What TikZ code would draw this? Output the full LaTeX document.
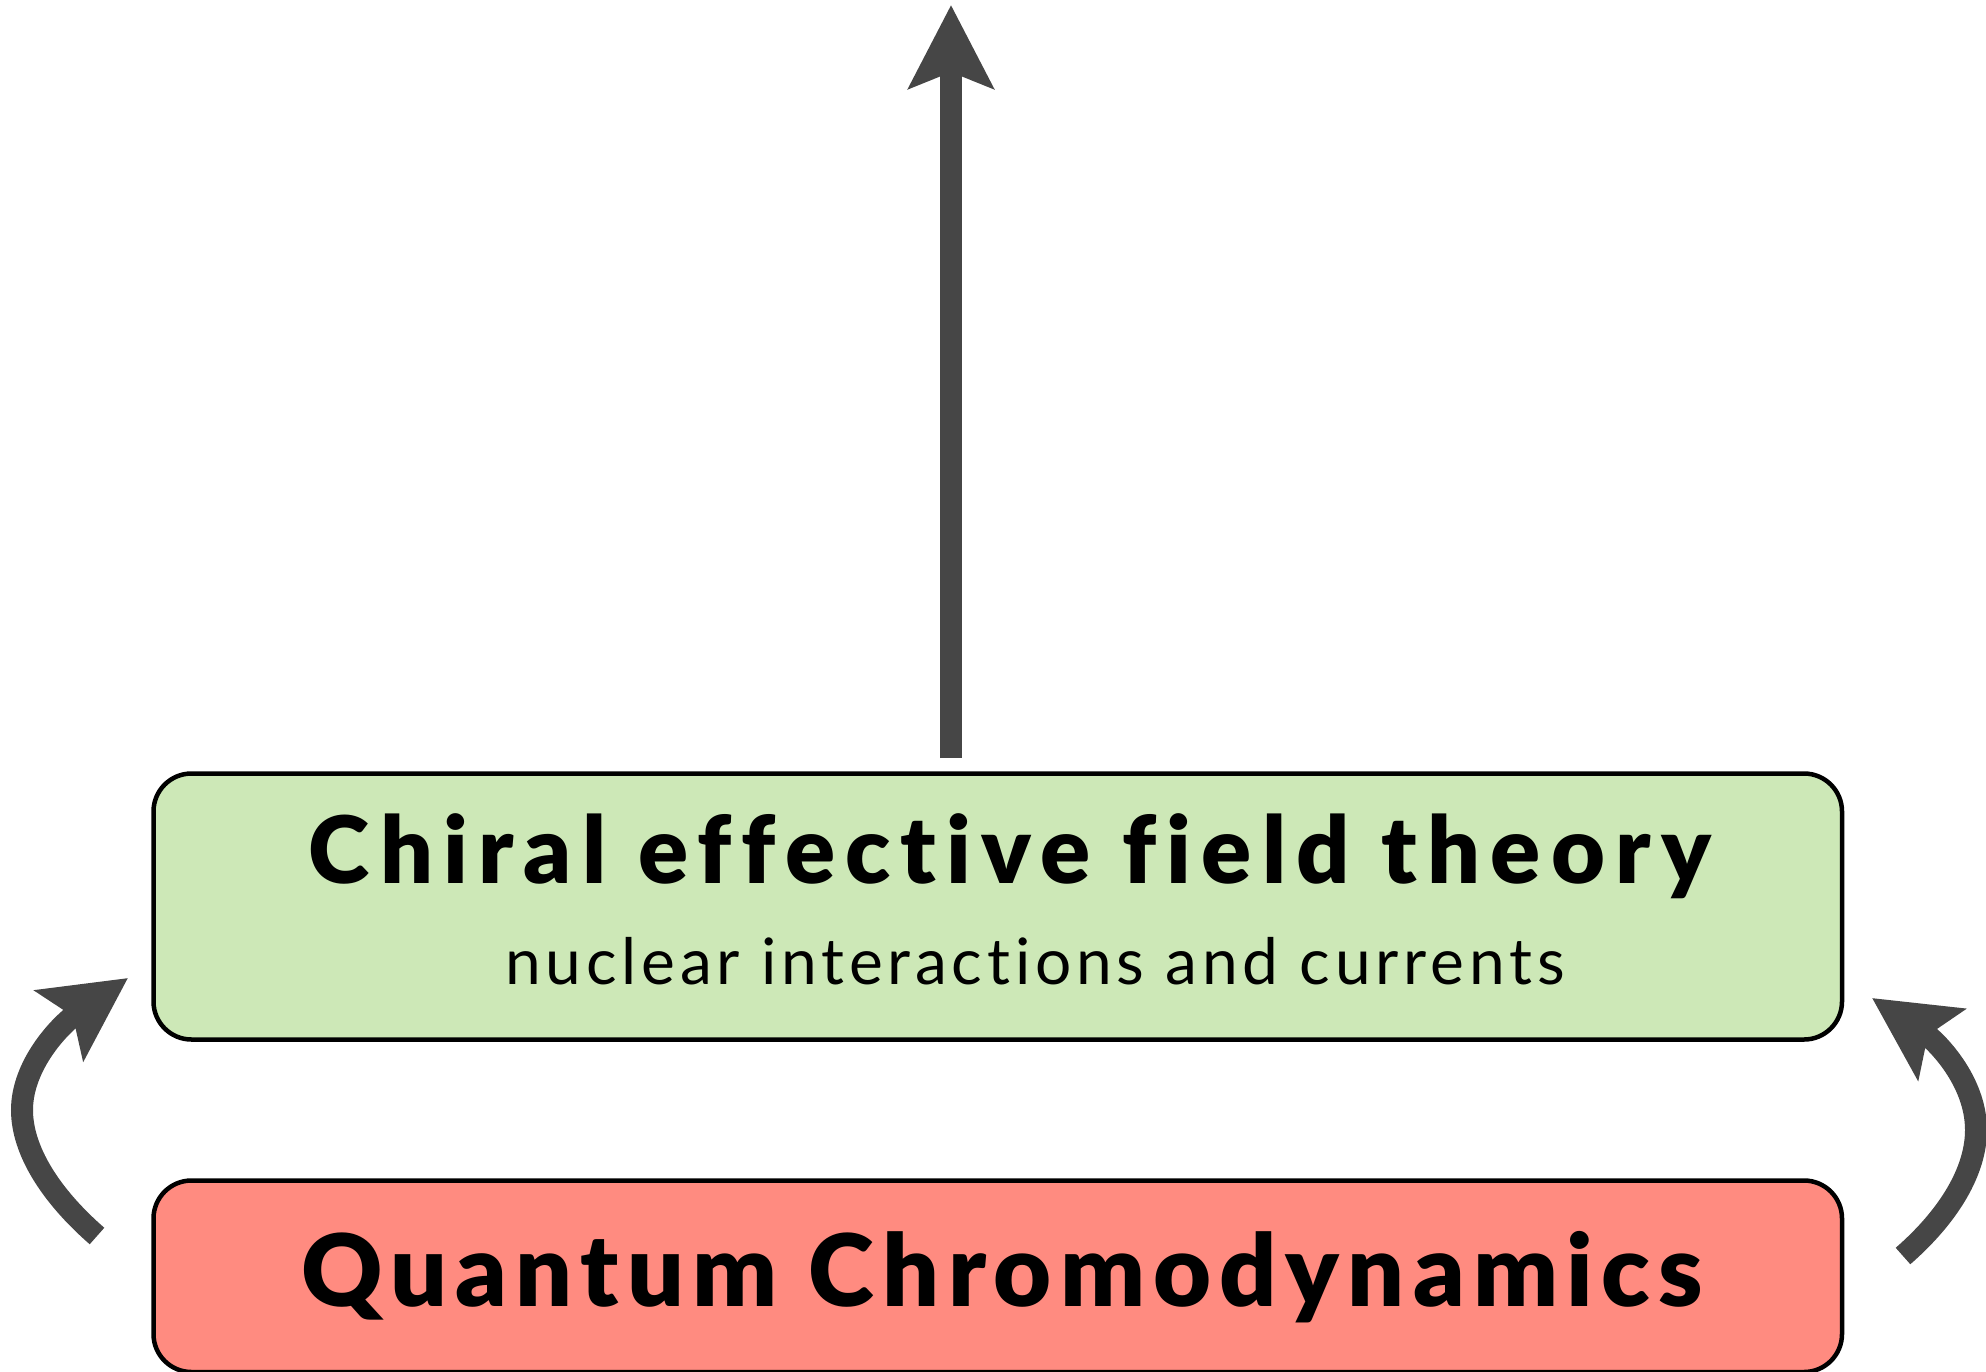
\documentclass[tikz,border=0pt]{standalone}
\usepackage{fontspec}
\setmainfont{Lato}
\newfontfamily\heavyfont{Lato Black}[Ligatures={CommonOff,RareOff},LetterSpace=11]
\newfontfamily\heavyfontq{Lato Black}[Ligatures={CommonOff,RareOff},LetterSpace=8.3]
\newfontfamily\subfont{Lato}[Ligatures={CommonOff,RareOff},LetterSpace=7.5]
\usetikzlibrary{arrows.meta}
\definecolor{boxgreen}{RGB}{205,232,183}
\definecolor{boxred}{RGB}{255,139,128}
\definecolor{arrowgray}{RGB}{70,70,70}
\begin{document}
\begin{tikzpicture}[x=0.5pt,y=-0.5pt,
  box/.style={draw=black, line width=2.25pt, rounded corners=19pt, minimum width=844.25pt, inner sep=0pt, outer sep=0pt},
  bigarrow/.style={draw=arrowgray, line width=11pt, -{Stealth[length=41.5pt,width=42pt,inset=8pt]}},
  titletext/.style={anchor=base, inner sep=0pt, font=\heavyfont\fontsize{46.5}{46.5}\selectfont},
  subtext/.style={anchor=base, inner sep=0pt, font=\subfont\fontsize{32}{32}\selectfont}]
\useasboundingbox[fill=white] (0,0) rectangle (1986,1371);
% boxes
\node[box, fill=boxgreen, minimum height=133pt] (eft) at (997.75,906.5) {};
\node[box, fill=boxred, minimum height=95.75pt] (qcd) at (997.75,1276.25) {};
% texts
\node[titletext] (eftt) at (1010,883) {Chiral effective field theory};
\node[subtext] (efts) at (1035,984) {nuclear interactions and currents};
\node[titletext, font=\heavyfontq\fontsize{50}{50}\selectfont] (qcdt) at (1002,1306) {Quantum Chromodynamics};
% arrows
\coordinate (upstart) at (951,758);
\coordinate (upend) at (951,5);
\draw[bigarrow] (upstart) -- (upend);
\coordinate (ltail) at (97,1236);
\coordinate (ltip) at (128,978);
\draw[bigarrow] (ltail) .. controls (50,1195) and (22,1150) .. (22,1110)
  .. controls (22,1065) and (60,1025) .. (ltip);
\coordinate (rtail) at (1903,1256);
\coordinate (rtip) at (1872,998);
\draw[bigarrow] (rtail) .. controls (1950,1215) and (1976,1170) .. (1976,1130)
  .. controls (1976,1080) and (1935,1040) .. (rtip);
\end{tikzpicture}
\end{document}
